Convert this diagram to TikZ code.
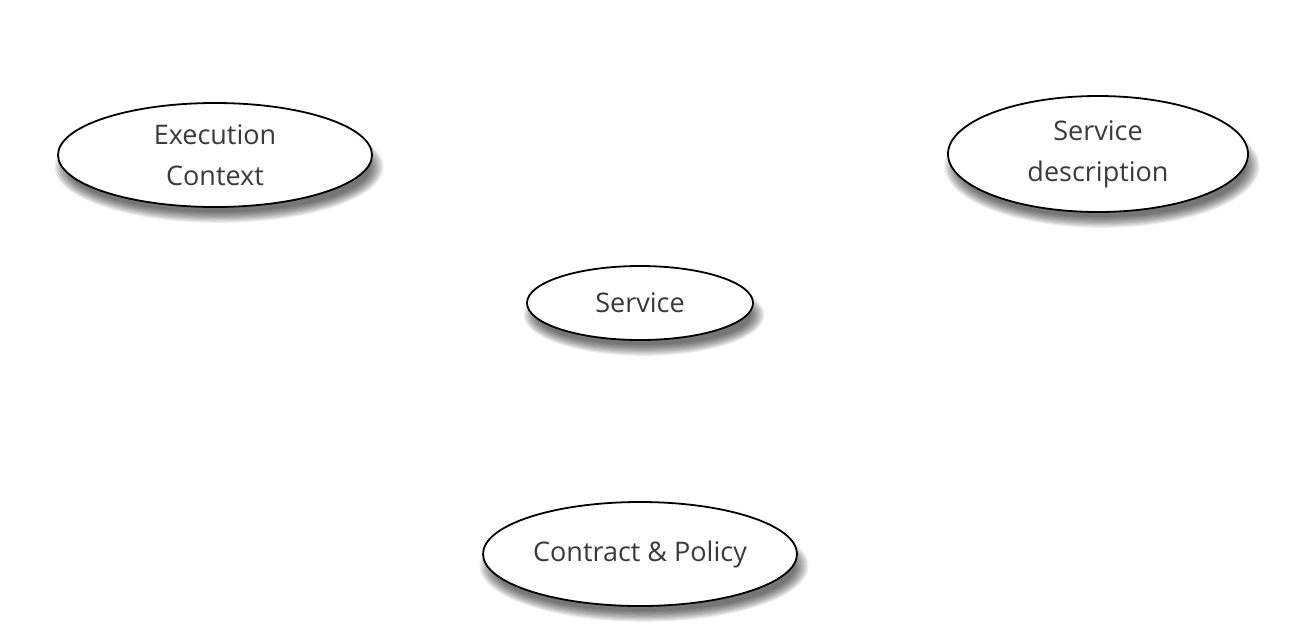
\documentclass[tikz,border=0pt]{standalone}
\usepackage{fontspec}
\setmainfont{Open Sans}
\usetikzlibrary{shapes.geometric}
\definecolor{txt}{HTML}{3A3A3A}
\tikzset{
  bubble/.style={ellipse, draw=black, line width=1.8pt, fill=white, inner sep=0pt,
    text=txt, font=\fontsize{27}{41}\selectfont, align=center},
}
\begin{document}
\begin{tikzpicture}[x=1pt,y=-1pt]
\useasboundingbox (0,0) rectangle (1292,638);
% shadows
\foreach \cx/\cy/\rx/\ry in {215/155/157/52, 1098/154/150/58, 640/303/113/37, 640/554/157/52}{
  \foreach \k in {0,1.5,...,13.5}{
    \fill[black, opacity=0.075] (\cx+4,\cy+12) ellipse [x radius=\rx-6+\k, y radius=\ry-7+\k*0.8];
  }
}
\node[bubble, minimum width=314pt, minimum height=104pt] (exec) at (215,155) {Execution\\Context};
\node[bubble, minimum width=300pt, minimum height=116pt] (desc) at (1098,154) {Service\\description};
\node[bubble, minimum width=226pt, minimum height=74pt] (serv) at (640,303) {Service};
\node[bubble, minimum width=314pt, minimum height=104pt] (cont) at (640,554) {Contract \& Policy};
\end{tikzpicture}
\end{document}
